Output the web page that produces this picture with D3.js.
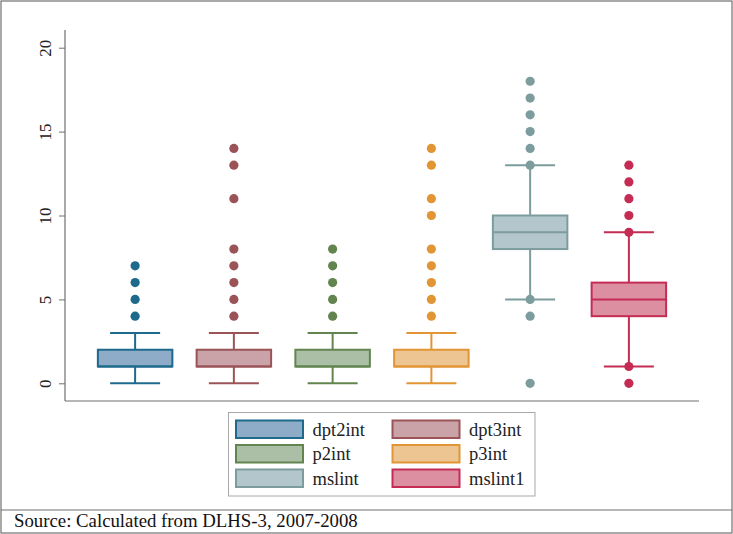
<!DOCTYPE html>
<html>
<head>
<meta charset="utf-8">
<script src="https://cdn.jsdelivr.net/npm/d3@7"></script>
<style>
  body { margin: 0; background: #fff; }
  svg { display: block; }
</style>
</head>
<body>
<svg id="chart" width="733" height="534"></svg>
<script>
// ---- Data ----
const categories = ["dpt2int", "dpt3int", "p2int", "p3int", "mslint", "mslint1"];
const q1Values      = [1, 1, 1, 1, 8, 4];
const medianValues  = [1, 1, 1, 1, 9, 5];
const q3Values      = [2, 2, 2, 2, 10, 6];
const lowWhisker    = [0, 0, 0, 0, 5, 1];
const highWhisker   = [3, 3, 3, 3, 13, 9];
const outlierValues = [
  [4, 5, 6, 7],
  [4, 5, 6, 7, 8, 11, 13, 14],
  [4, 5, 6, 7, 8],
  [4, 5, 6, 7, 8, 10, 11, 13, 14],
  [0, 4, 5, 13, 14, 15, 16, 17, 18],
  [0, 1, 9, 10, 11, 12, 13]
];
const yTicks = [0, 5, 10, 15, 20];
const sourceText = "Source: Calculated from DLHS-3, 2007-2008";

// ---- Styles ----
const strokeColors = ["#1d6a8c", "#9a5458", "#62844f", "#e29534", "#7d9c9d", "#c42c53"];
const fillColors   = ["#8eabc7", "#c9a3a7", "#aabfa5", "#ecc592", "#b3c6cc", "#dd8fa2"];
const serif = "'Liberation Serif', 'Times New Roman', serif";
const labelFont = "'Liberation Serif', 'DejaVu Serif', serif";
const axisColor = "#707070";

const svg = d3.select("#chart");

// outer frame
svg.append("rect").attr("x", 1).attr("y", 1).attr("width", 731).attr("height", 532)
  .attr("fill", "none").attr("stroke", axisColor).attr("stroke-width", 1.2);
svg.append("line").attr("x1", 1).attr("x2", 732).attr("y1", 510).attr("y2", 510)
  .attr("stroke", axisColor).attr("stroke-width", 1.2);

// scales
const plotLeft = 65, plotRight = 699, plotTop = 30, plotBottom = 401;
const y = d3.scaleLinear().domain([0, 20]).range([383.3, 47.7]);
const x = d3.scalePoint().domain(categories).range([plotLeft, plotRight]).padding(0.71);

// y axis
const yAxis = d3.axisLeft(y).tickValues(yTicks).tickSize(6).tickPadding(6);
const gy = svg.append("g").attr("transform", `translate(${plotLeft},0)`).call(yAxis);
gy.select(".domain").remove();
gy.selectAll(".tick line").attr("stroke", axisColor).attr("stroke-width", 1);
gy.selectAll(".tick text")
  .attr("font-family", labelFont).attr("font-size", 17).attr("fill", "#222")
  .attr("text-anchor", "middle")
  .attr("transform", "rotate(-90)")
  .attr("x", 0).attr("y", -20).attr("dy", "0.35em");

svg.append("line").attr("x1", plotLeft).attr("x2", plotLeft).attr("y1", plotTop).attr("y2", plotBottom)
  .attr("stroke", axisColor).attr("stroke-width", 1.2);
svg.append("line").attr("x1", plotLeft).attr("x2", plotRight).attr("y1", plotBottom).attr("y2", plotBottom)
  .attr("stroke", axisColor).attr("stroke-width", 1.2);

// boxes
const boxW = 74.5, capW = 50;
const rows = categories.map((c, i) => ({
  c, i, q1: q1Values[i], med: medianValues[i], q3: q3Values[i],
  lo: lowWhisker[i], hi: highWhisker[i], out: outlierValues[i]
}));

const g = svg.append("g").selectAll("g").data(rows).join("g");

// whiskers
g.append("line").attr("x1", d => x(d.c)).attr("x2", d => x(d.c))
  .attr("y1", d => y(d.q3)).attr("y2", d => y(d.hi))
  .attr("stroke", d => strokeColors[d.i]).attr("stroke-width", 2);
g.append("line").attr("x1", d => x(d.c)).attr("x2", d => x(d.c))
  .attr("y1", d => y(d.q1)).attr("y2", d => y(d.lo))
  .attr("stroke", d => strokeColors[d.i]).attr("stroke-width", 2);
g.append("line").attr("x1", d => x(d.c) - capW / 2).attr("x2", d => x(d.c) + capW / 2)
  .attr("y1", d => y(d.hi)).attr("y2", d => y(d.hi))
  .attr("stroke", d => strokeColors[d.i]).attr("stroke-width", 2);
g.append("line").attr("x1", d => x(d.c) - capW / 2).attr("x2", d => x(d.c) + capW / 2)
  .attr("y1", d => y(d.lo)).attr("y2", d => y(d.lo))
  .attr("stroke", d => strokeColors[d.i]).attr("stroke-width", 2);

// box
g.append("rect").attr("x", d => x(d.c) - boxW / 2).attr("width", boxW)
  .attr("y", d => y(d.q3)).attr("height", d => y(d.q1) - y(d.q3))
  .attr("fill", d => fillColors[d.i]).attr("stroke", d => strokeColors[d.i]).attr("stroke-width", 2);
g.append("line").attr("x1", d => x(d.c) - boxW / 2).attr("x2", d => x(d.c) + boxW / 2)
  .attr("y1", d => y(d.med)).attr("y2", d => y(d.med))
  .attr("stroke", d => strokeColors[d.i]).attr("stroke-width", 2);

// outliers
g.selectAll("circle").data(d => d.out.map(v => ({ v, c: d.c, i: d.i }))).join("circle")
  .attr("cx", d => x(d.c)).attr("cy", d => y(d.v)).attr("r", 4.6)
  .attr("fill", d => strokeColors[d.i]);

// legend
const lg = svg.append("g");
lg.append("rect").attr("x", 228.5).attr("y", 412.5).attr("width", 306.5).attr("height", 83.5)
  .attr("fill", "#fff").attr("stroke", "#a8a8a8").attr("stroke-width", 1);
const colX = [236, 392.5], textX = [312.5, 469], rowY = [420.5, 445, 469.5];
categories.forEach((c, i) => {
  const col = i % 2, row = Math.floor(i / 2);
  lg.append("rect").attr("x", colX[col]).attr("y", rowY[row]).attr("width", 67).attr("height", 17.5)
    .attr("fill", fillColors[i]).attr("stroke", strokeColors[i]).attr("stroke-width", 2);
  lg.append("text").attr("x", textX[col]).attr("y", rowY[row] + 9).attr("dy", "0.35em")
    .attr("font-family", labelFont).attr("font-size", 18.5).attr("fill", "#222").text(c);
});

// source note
svg.append("text").attr("x", 14).attr("y", 527)
  .attr("font-family", serif).attr("font-size", 18.8).attr("fill", "#111").text(sourceText);
</script>
</body>
</html>
